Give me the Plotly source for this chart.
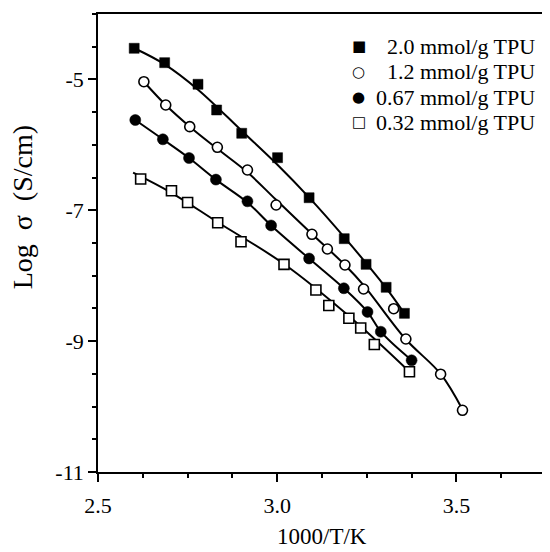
import plotly.graph_objects as go

# ---- data ----
series_names = ["2.0 mmol/g TPU", "1.2 mmol/g TPU", "0.67 mmol/g TPU", "0.32 mmol/g TPU"]
legend_glyphs = ["\u25a0", "\u25cb", "\u25cf", "\u25a1"]

x_20 = [2.601, 2.686, 2.779, 2.831, 2.901, 3.001, 3.089, 3.187, 3.248, 3.304, 3.355]
y_20 = [-4.524, -4.744, -5.074, -5.467, -5.823, -6.196, -6.808, -7.434, -7.826, -8.177, -8.575]

x_12 = [2.628, 2.689, 2.756, 2.833, 2.917, 2.997, 3.097, 3.140, 3.189, 3.241, 3.325, 3.359, 3.456, 3.517]
y_12 = [-5.035, -5.391, -5.722, -6.037, -6.384, -6.919, -7.367, -7.592, -7.836, -8.203, -8.504, -8.967, -9.505, -10.057]

x_067 = [2.604, 2.681, 2.754, 2.829, 2.917, 2.983, 3.089, 3.186, 3.252, 3.289, 3.375]
y_067 = [-5.620, -5.915, -6.201, -6.531, -6.863, -7.232, -7.737, -8.192, -8.554, -8.856, -9.293]

x_032 = [2.619, 2.705, 2.750, 2.834, 2.899, 3.019, 3.108, 3.144, 3.200, 3.233, 3.271, 3.369]
y_032 = [-6.522, -6.701, -6.881, -7.190, -7.480, -7.826, -8.218, -8.455, -8.651, -8.799, -9.051, -9.467]

# fitted curves (nodes)
fx_20 = [2.600, 2.686, 2.780, 2.900, 3.000, 3.090, 3.190, 3.300, 3.356]
fy_20 = [-4.520, -4.770, -5.160, -5.780, -6.300, -6.810, -7.430, -8.160, -8.585]

fx_12 = [2.628, 2.689, 2.756, 2.833, 2.917, 2.997, 3.097, 3.189, 3.242, 3.358, 3.456, 3.518]
fy_12 = [-5.035, -5.391, -5.722, -6.060, -6.420, -6.840, -7.362, -7.836, -8.150, -8.967, -9.502, -10.057]

fx_067 = [2.604, 2.681, 2.754, 2.829, 2.917, 2.983, 3.089, 3.186, 3.252, 3.289, 3.375]
fy_067 = [-5.620, -5.915, -6.201, -6.531, -6.880, -7.232, -7.737, -8.192, -8.554, -8.856, -9.293]

fx_032 = [2.598, 2.706, 2.833, 3.019, 3.200, 3.369]
fy_032 = [-6.425, -6.736, -7.179, -7.821, -8.616, -9.467]

x_tickvals = [2.5, 3.0, 3.5]
x_ticktext = ["2.5", "3.0", "3.5"]
y_tickvals = [-11, -9, -7, -5]
y_ticktext = ["-11", "-9", "-7", "-5"]

FONT = "Liberation Serif, Times New Roman, serif"

# page body has an 8px margin: figure is 542x544, plot area at page px 98..548 x 14..472
OFF = 8
W, H = 542, 544
L, T, B = 98 - OFF, 14 - OFF, 80
R = W - L - 450
PH = H - T - B  # plot height (458)


def px_x(px):
    return (px - OFF - L) / 450


def px_y(py):
    return (H - B - (py - OFF)) / PH


fig = go.Figure()

series = [
    (x_20, y_20, fx_20, fy_20, "square", "black", 10),
    (x_12, y_12, fx_12, fy_12, "circle", "white", 10),
    (x_067, y_067, fx_067, fy_067, "circle", "black", 11),
    (x_032, y_032, fx_032, fy_032, "square", "white", 10),
]

for name, (xs, ys, fxs, fys, sym, col, sz) in zip(series_names, series):
    fig.add_trace(go.Scatter(x=fxs, y=fys, mode="lines",
                             line=dict(color="black", width=2, shape="spline", smoothing=1.0),
                             showlegend=False, hoverinfo="skip"))
for name, (xs, ys, fxs, fys, sym, col, sz) in zip(series_names, series):
    fig.add_trace(go.Scatter(x=xs, y=ys, mode="markers", name=name, showlegend=False,
                             marker=dict(symbol=sym, size=sz, color=col,
                                         line=dict(color="black", width=1.6 if col == "white" else 0.5))))

axis_common = dict(showline=True, linecolor="black", linewidth=1.5, mirror=True, showgrid=False, zeroline=False,
                   ticks="outside", tickcolor="black", tickwidth=1.5,
                   tickfont=dict(family=FONT, size=22, color="black"))

fig.update_xaxes(range=[2.5, 3.75], tickvals=x_tickvals, ticktext=x_ticktext, ticklen=8,
                 ticklabelstandoff=5,
                 minor=dict(dtick=0.125, tick0=2.5, ticks="outside", ticklen=4, tickcolor="black", tickwidth=1.5),
                 **axis_common)
fig.update_yaxes(range=[-11, -4], tickvals=y_tickvals, ticktext=y_ticktext, ticklen=8,
                 minor=dict(dtick=0.5, tick0=-11, ticks="outside", ticklen=4, tickcolor="black", tickwidth=1.5),
                 **axis_common)

# axis titles
fig.add_annotation(text="1000/T/K", xref="paper", yref="paper", x=px_x(323), y=px_y(536),
                   xanchor="center", yanchor="middle", showarrow=False,
                   font=dict(family=FONT, size=23, color="black"))
fig.add_annotation(text="Log\u00a0\u00a0σ\u00a0\u00a0(S/cm)", xref="paper", yref="paper", x=px_x(22),
                   y=px_y(207), xanchor="center", yanchor="middle",
                   textangle=-90, showarrow=False, font=dict(family=FONT, size=28, color="black"))

# legend (inside, top right)
row_px = [46, 72, 97, 122]
for name, glyph, py in zip(series_names, legend_glyphs, row_px):
    fig.add_annotation(text=glyph, xref="paper", yref="paper", x=px_x(360), y=px_y(py),
                       xanchor="center", yanchor="middle", showarrow=False,
                       font=dict(family="DejaVu Sans", size=15, color="black"))
    fig.add_annotation(text=name, xref="paper", yref="paper", x=px_x(539), y=px_y(py),
                       xanchor="right", yanchor="middle", showarrow=False,
                       font=dict(family=FONT, size=22, color="black"))

fig.update_layout(
    width=W, height=H,
    margin=dict(l=L, r=R, t=T, b=B),
    paper_bgcolor="white", plot_bgcolor="white",
    font=dict(family=FONT, color="black"),
    showlegend=False,
)

fig.write_html("out.html")
